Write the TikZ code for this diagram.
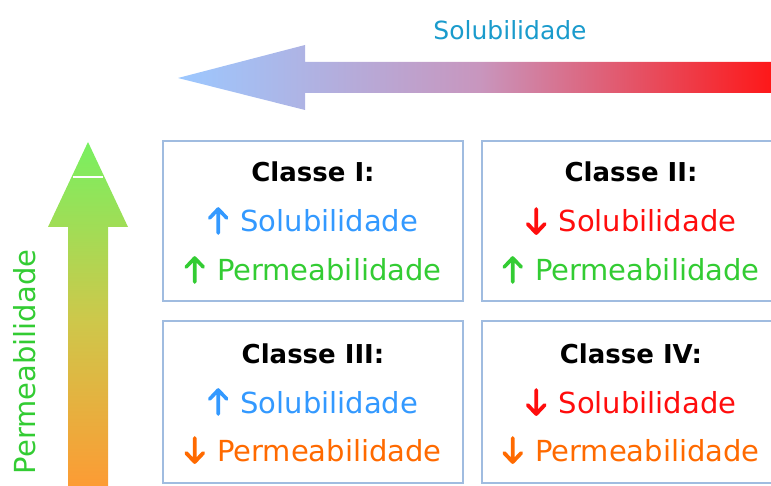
\documentclass[tikz,border=0pt]{standalone}
\usepackage{fontspec}
\setmainfont{DejaVu Sans}
\definecolor{solblue}{HTML}{3399FF}
\definecolor{permgreen}{HTML}{33CC33}
\definecolor{solred}{HTML}{FF0D0D}
\definecolor{permorange}{HTML}{FF6A00}
\definecolor{boxline}{HTML}{A0BCE0}
\definecolor{axisblue}{HTML}{1A9BCC}
\newcommand{\upar}{\tikz[baseline=0pt,x=1pt,y=1pt]\draw[line width=3.6pt,line cap=round,line join=round] (10.5,-1) -- (10.5,23) (2,14) -- (10.5,23) -- (19,14);\hspace{12pt}}
\newcommand{\downar}{\tikz[baseline=0pt,x=1pt,y=1pt]\draw[line width=3.8pt,line cap=round,line join=round] (10.5,23) -- (10.5,-1) (2,8) -- (10.5,-1) -- (19,8);\hspace{12pt}}
\begin{document}
\begin{tikzpicture}[x=1pt,y=-1pt,
    classbox/.style={draw=boxline,line width=1.5pt,minimum width=300pt,minimum height=160pt,inner sep=0pt},
    classtitle/.style={anchor=base,inner sep=0pt,font=\bfseries\fontsize{26}{30}\selectfont},
    classline/.style={anchor=base,inner sep=0pt,font=\fontsize{29}{33}\selectfont}]
    \useasboundingbox (0,0) rectangle (771,486);
    \clip (0,0) rectangle (771,486);
    \shade[left color={rgb,255:red,156;green,200;blue,255},right color={rgb,255:red,255;green,20;blue,20},middle color={rgb,255:red,200;green,150;blue,190}]
      (780,62) -- (305,62) -- (305,45) -- (178,78) -- (305,110) -- (305,93) -- (780,93) -- cycle;
    \shade[top color={rgb,255:red,120;green,240;blue,96},bottom color={rgb,255:red,255;green,153;blue,51},middle color={rgb,255:red,205;green,200;blue,75}]
      (68,495) -- (68,227) -- (48,227) -- (88,142) -- (128,227) -- (108,227) -- (108,495) -- cycle;
    \draw[white,line width=1.2pt] (73,177) -- (103,177);
    \node[anchor=base,inner sep=0pt,axisblue,font=\fontsize{25}{29}\selectfont] (solaxis) at (510,40) {Solubilidade};
    \node[anchor=base,inner sep=0pt,rotate=90,permgreen,font=\fontsize{29}{33}\selectfont] (permaxis) at (35,362) {Permeabilidade};

    \node[classbox] (c1) at (313,221) {};
    \node[classbox,minimum width=298pt] (c2) at (631,221) {};
    \node[classbox,minimum height=162pt] (c3) at (313,402) {};
    \node[classbox,minimum width=298pt,minimum height=162pt] (c4) at (631,402) {};

    \node[classtitle] (t1) at ([yshift=39pt]c1.center) {Classe I:};
    \node[classline,solblue] (s1) at ([yshift=-11pt]c1.center) {\upar Solubilidade};
    \node[classline,permgreen] (p1) at ([yshift=-60pt]c1.center) {\upar Permeabilidade};

    \node[classtitle] (t2) at ([yshift=39pt]c2.center) {Classe II:};
    \node[classline,solred] (s2) at ([yshift=-11pt]c2.center) {\downar Solubilidade};
    \node[classline,permgreen] (p2) at ([yshift=-60pt]c2.center) {\upar Permeabilidade};

    \node[classtitle] (t3) at ([yshift=39pt]c3.center) {Classe III:};
    \node[classline,solblue] (s3) at ([yshift=-11pt]c3.center) {\upar Solubilidade};
    \node[classline,permorange] (p3) at ([yshift=-59pt]c3.center) {\downar Permeabilidade};

    \node[classtitle] (t4) at ([yshift=39pt]c4.center) {Classe IV:};
    \node[classline,solred] (s4) at ([yshift=-11pt]c4.center) {\downar Solubilidade};
    \node[classline,permorange] (p4) at ([yshift=-59pt]c4.center) {\downar Permeabilidade};
\end{tikzpicture}
\end{document}
